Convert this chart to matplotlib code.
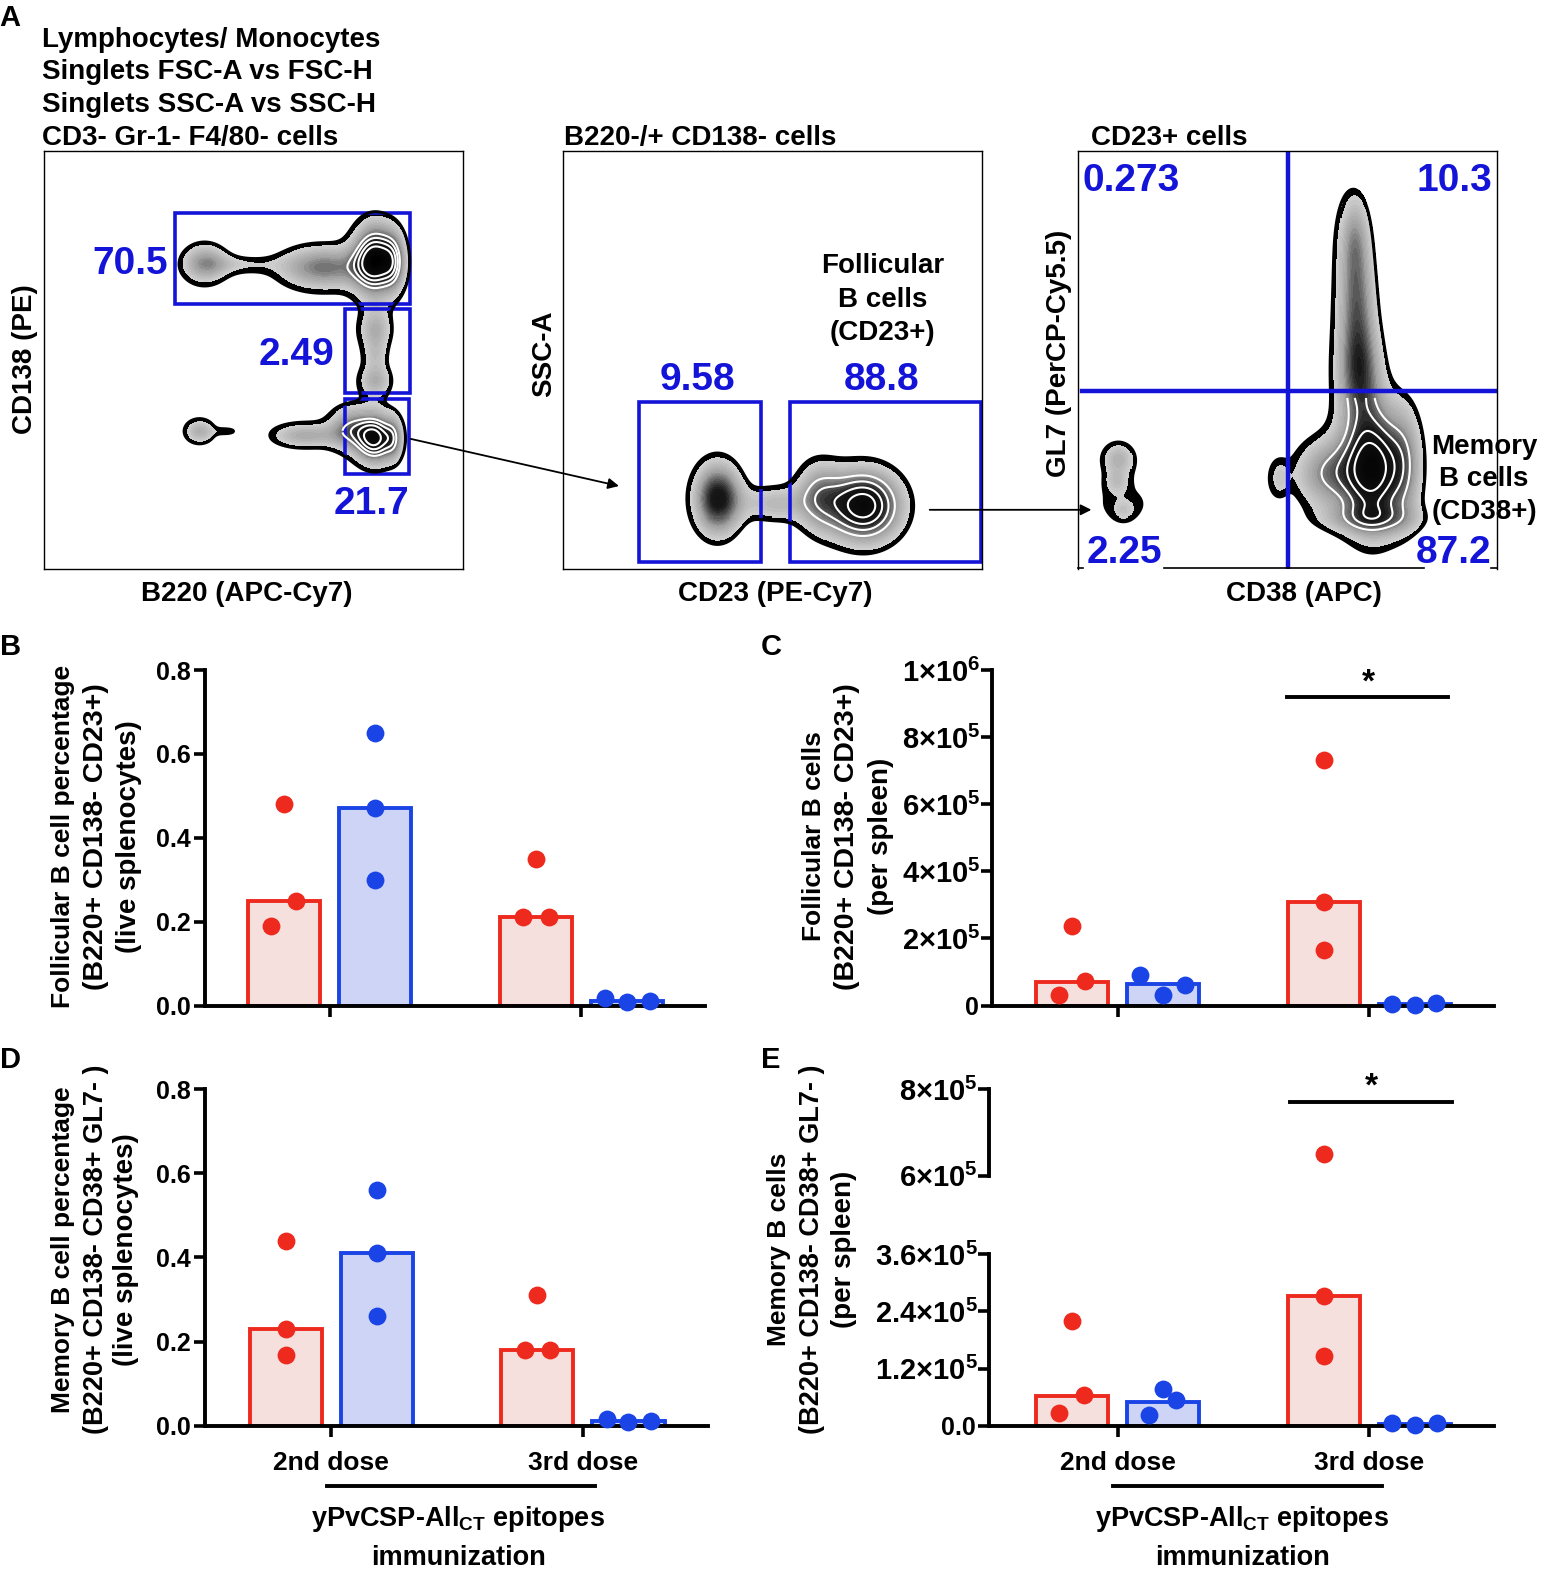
import numpy as np
import matplotlib
matplotlib.use("Agg")
import matplotlib.pyplot as plt
from matplotlib.colors import LinearSegmentedColormap
from matplotlib.patches import Rectangle

plt.rcParams['font.family'] = ['Liberation Sans', 'DejaVu Sans']
plt.rcParams['font.weight'] = 'bold'
plt.rcParams['mathtext.fontset'] = 'custom'
plt.rcParams['mathtext.rm'] = 'Liberation Sans:bold'
plt.rcParams['mathtext.default'] = 'rm'

# ---------------- data ----------------
groups = ['2nd dose', '3rd dose']

b_bars = [0.25, 0.47, 0.21, 0.01]
b_red2 = [0.19, 0.25, 0.48]
b_blue2 = [0.30, 0.47, 0.65]
b_red3 = [0.21, 0.21, 0.35]
b_blue3 = [0.018, 0.008, 0.010]

c_bars = [0.7e5, 0.65e5, 3.1e5, 0.05e5]
c_red2 = [0.3e5, 0.72e5, 2.37e5]
c_blue2 = [0.9e5, 0.3e5, 0.6e5]
c_red3 = [1.65e5, 3.1e5, 7.33e5]
c_blue3 = [0.05e5, 0.03e5, 0.06e5]

d_bars = [0.23, 0.41, 0.18, 0.01]
d_red2 = [0.168, 0.23, 0.438]
d_blue2 = [0.26, 0.41, 0.56]
d_red3 = [0.18, 0.18, 0.31]
d_blue3 = [0.015, 0.008, 0.010]

e_bars = [0.62e5, 0.50e5, 2.73e5, 0.04e5]
e_red2 = [0.275e5, 0.635e5, 2.2e5]
e_blue2 = [0.23e5, 0.76e5, 0.53e5]
e_red3 = [1.46e5, 2.73e5, 6.51e5]
e_blue3 = [0.05e5, 0.02e5, 0.05e5]

# swarm offsets of the dots, in bar units
off_b = [[-.14, .13, 0], [0, 0, 0], [-.14, .14, 0], [-.24, 0, .25]]
off_c = [[-.14, .14, 0], [-.25, 0, .24], [0, 0, 0], [-.25, 0, .23]]
off_d = [[0, 0, 0], [0, 0, 0], [-.14, .14, 0], [-.24, 0, .25]]
off_e = [[-.14, .13, 0], [-.16, 0, .14], [0, 0, 0], [-.25, 0, .24]]

# flow-cytometry density blobs: cx, cy, sx, sy, amplitude
blobs1 = [(203, 262, 16, 14, .46), (240, 263, 24, 7, .17), (372, 258, 15, 24, 1.0),
          (320, 266, 30, 15, .55), (391, 260, 8, 20, .4),
          (372, 328, 12, 15, .36), (372, 378, 12, 12, .36), (372, 353, 9, 10, .17),
          (372, 435, 14, 17, .95), (345, 425, 14, 15, .45), (302, 432, 24, 9, .38),
          (391, 435, 6, 15, .3), (198, 428, 11, 9, .36), (226, 428, 9, 3, .16)]
blobs2 = [(712, 495, 16, 24, .82), (768, 500, 22, 13, .3), (857, 502, 25, 24, 1.0),
          (812, 492, 16, 24, .42)]
blobs3 = [(1110, 455, 12, 12, .34), (1115, 500, 28, 20, .17), (1115, 507, 6, 6, .12),
          (1108, 478, 8, 8, .17),
          (1343, 235, 11, 32, .38), (1345, 300, 13, 40, .5), (1348, 370, 15, 35, .6),
          (1362, 465, 22, 42, 1.0), (1315, 470, 22, 24, .45), (1360, 515, 35, 10, .3),
          (1395, 460, 12, 40, .3), (1268, 475, 8, 16, .2)]

# ---------------- layout helpers ----------------
W, H = 1537.4, 1568.2
RED, RED_F = '#EE2A1E', '#F6E0DE'
BLUE, BLUE_F = '#1A44E6', '#CDD4F5'
GATE = '#1414D8'
FS = 20

fig = plt.figure(figsize=(15.49, 15.80), dpi=100, facecolor='white')


def axpx(x0, y0, x1, y1, **kw):
    return fig.add_axes([x0 / W, 1 - y1 / H, (x1 - x0) / W, (y1 - y0) / H], **kw)


over = fig.add_axes([0, 0, 1, 1], zorder=10)
over.set_xlim(0, W)
over.set_ylim(H, 0)
over.axis('off')
over.patch.set_alpha(0)


def T(x, y, s, **kw):
    kw.setdefault('fontsize', FS)
    kw.setdefault('ha', 'center')
    kw.setdefault('va', 'center')
    if kw.get('rotation') == 90:
        x += 3
    else:
        y += 2.5
    over.text(x, y, s, **kw)


cm = LinearSegmentedColormap.from_list('flow', [
    (0, '#000000'), (.05, '#000000'), (.055, '#d0d0d0'), (.30, '#a0a0a0'),
    (.62, '#181818'), (1, '#000000')])


def flow(box, blobs, levels, gates, ring_zone, thresh=.12):
    x0, y0, x1, y1 = box
    ax = axpx(x0, y0, x1, y1)
    ax.set_xlim(x0, x1)
    ax.set_ylim(y1, y0)
    ax.set_xticks([])
    ax.set_yticks([])
    for s in ax.spines.values():
        s.set_linewidth(1.0)
    xs, ys = np.meshgrid(np.arange(x0, x1), np.arange(y0, y1))
    F = np.zeros_like(xs, dtype=float)
    for cx, cy, sx, sy, a in blobs:
        F += a * np.exp(-(xs - cx) ** 2 / (2 * sx ** 2) - (ys - cy) ** 2 / (2 * sy ** 2))
    F = np.clip(F, 0, 1.15) / 1.15
    G = np.round((F - thresh) / (1 - thresh) * 30) / 30
    ax.imshow(np.ma.masked_where(F < thresh, G), cmap=cm, vmin=0, vmax=1,
              extent=(x0, x1, y1, y0), aspect='auto', interpolation='nearest')
    ax.contour(xs, ys, F, levels=[thresh], colors='k', linewidths=2.2)
    zx0, zy0 = ring_zone
    Fz = np.ma.masked_where((xs < zx0) | (ys < zy0), F)
    ax.contour(xs, ys, Fz, levels=levels, colors='white', linewidths=1.5)
    for gx, gy, gw, gh in gates:
        ax.add_patch(Rectangle((gx, gy), gw, gh, fill=False, ec=GATE, lw=2.6, clip_on=False))
    return ax


flow((44, 150, 460, 565), blobs1, [.5, .6, .7, .8], [(174, 211, 233, 91), (342, 307, 65, 83), (342, 396, 64, 74)], (340, 150))
flow((559, 150, 975, 565), blobs2, [.4, .53, .66, .78], [(634, 399, 121, 159), (784, 399, 190, 159)], (790, 150))
a3 = flow((1070, 150, 1486, 565), blobs3, [.45, .58, .7, .8], [], (1300, 395))
a3.axvline(1278, color=GATE, lw=3.2)
a3.plot([1074, 1486], [388, 388], color=GATE, lw=3.2)
a3.spines['bottom'].set_visible(False)
for seg in ([1070, 1075], [1155, 1413], [1480, 1486]):
    a3.plot(seg, [564, 564], color='k', lw=1.2, clip_on=False)

over.annotate('', xy=(617, 483), xytext=(405, 435), arrowprops=dict(arrowstyle='-|>', color='k', lw=1.3, mutation_scale=16))
over.annotate('', xy=(1086, 506), xytext=(920, 506), arrowprops=dict(arrowstyle='-|>', color='k', lw=1.3, mutation_scale=16))

for x, y, s in [(129, 260, '70.5'), (294, 350, '2.49'), (369, 498, '21.7'), (692, 375, '9.58'),
                (875, 375, '88.8'), (1123, 177, '0.273'), (1443, 177, '10.3'),
                (1116, 546, '2.25'), (1443, 546, '87.2')]:
    T(x, y, s, fontsize=28, color=GATE)

for y, s in [(37, 'Lymphocytes/ Monocytes'), (69, 'Singlets FSC-A vs FSC-H'),
             (102, 'Singlets SSC-A vs SSC-H'), (134, 'CD3- Gr-1- F4/80- cells')]:
    T(42, y, s, ha='left')
T(560, 134, 'B220-/+ CD138- cells', ha='left')
T(1083, 134, 'CD23+ cells', ha='left')
for y, s in [(262, 'Follicular'), (295, 'B cells'), (328, '(CD23+)')]:
    T(876, y, s)
for y, s in [(441, 'Memory'), (473, 'B cells'), (506, '(CD38+)')]:
    T(1473, y, s)
T(245, 587, 'B220 (APC-Cy7)')
T(769, 587, 'CD23 (PE-Cy7)')
T(1294, 587, 'CD38 (APC)')
T(22, 356, 'CD138 (PE)', rotation=90)
T(537, 351, 'SSC-A', rotation=90)
T(1048, 351, 'GL7 (PerCP-Cy5.5)', rotation=90)

for x, y, s in [(10, 15, 'A'), (10, 640, 'B'), (765, 640, 'C'), (10, 1050, 'D'), (765, 1050, 'E')]:
    T(x, y, s, fontsize=21)


def style(ax):
    ax.patch.set_alpha(0)
    for k in ('top', 'right'):
        ax.spines[k].set_visible(False)
    for k in ('left', 'bottom'):
        ax.spines[k].set_linewidth(2.8)
    ax.tick_params(width=2.6, length=8, labelsize=18, pad=2)


def size_labels(ax):
    for lab in ax.get_yticklabels():
        lab.set_fontsize(21 if '$' in lab.get_text() else 18)
        if '$' in lab.get_text():
            lab.set_x(0.004)


POS = [0, 1, 2.76, 3.76]
COLS = [(RED, RED_F), (BLUE, BLUE_F), (RED, RED_F), (BLUE, BLUE_F)]


def panel_bars(ax, bars):
    for p, h, (e, f) in zip(POS, bars, COLS):
        ax.bar(p, h, width=.79, facecolor=f, edgecolor=e, linewidth=2.8, zorder=2)


def dots(ax, pts, offs, lo=None, hi=None):
    for p, vals, of, (c, _) in zip(POS, pts, offs, COLS):
        for v, o in zip(vals, of):
            if (lo is None or v >= lo) and (hi is None or v <= hi):
                ax.scatter(p + o, v, s=165, color=c, zorder=4, linewidths=0, clip_on=False)


def simple_panel(box, centre0, ymax, ticks, labels, bars, pts, offs, ticklab):
    x0, y0, x1, y1 = box
    ax = axpx(x0, y0, x1, y1)
    style(ax)
    unit = 90.5
    ax.set_xlim(-(centre0 - x0) / unit, (x1 - centre0) / unit)
    ax.set_ylim(0, ymax)
    ax.set_yticks(ticks)
    ax.set_yticklabels(labels)
    size_labels(ax)
    ax.set_xticks([.5, 3.26])
    ax.set_xticklabels(groups if ticklab else ['', ''], fontsize=19)
    ax.tick_params(axis='x', pad=10)
    panel_bars(ax, bars)
    dots(ax, pts, offs)
    return ax


# Panel B
simple_panel((203, 665, 700, 998), 282, 0.8, [0, .2, .4, .6, .8], ['0.0', '0.2', '0.4', '0.6', '0.8'],
             b_bars, [b_red2, b_blue2, b_red3, b_blue3], off_b, False)
# Panel C
simple_panel((985, 665, 1483, 998), 1064, 1e6, [0, 2e5, 4e5, 6e5, 8e5, 1e6],
             ['0', '2×10$^{5}$', '4×10$^{5}$', '6×10$^{5}$', '8×10$^{5}$', '1×10$^{6}$'],
             c_bars, [c_red2, c_blue2, c_red3, c_blue3], off_c, False)
# Panel D
simple_panel((203, 1081, 703, 1415), 283.5, 0.8, [0, .2, .4, .6, .8], ['0.0', '0.2', '0.4', '0.6', '0.8'],
             d_bars, [d_red2, d_blue2, d_red3, d_blue3], off_d, True)

# Panel E (broken axis)
e_pts = [e_red2, e_blue2, e_red3, e_blue3]
lower = axpx(982, 1245, 1483, 1415)
style(lower)
lower.set_xlim(-(1064 - 982) / 90.5, (1483 - 1064) / 90.5)
lower.set_ylim(0, 3.6e5)
lower.set_yticks([0, 1.2e5, 2.4e5, 3.6e5])
lower.set_yticklabels(['0.0', '1.2×10$^{5}$', '2.4×10$^{5}$', '3.6×10$^{5}$'])
size_labels(lower)
lower.set_xticks([.5, 3.26])
lower.set_xticklabels(groups, fontsize=19)
lower.tick_params(axis='x', pad=10)
panel_bars(lower, e_bars)
dots(lower, e_pts, off_e, hi=3.6e5)

upper = axpx(982, 1081, 1483, 1167)
style(upper)
upper.spines['bottom'].set_visible(False)
upper.set_xlim(lower.get_xlim())
upper.set_ylim(6e5, 8e5)
upper.set_yticks([6e5, 8e5])
upper.set_yticklabels(['6×10$^{5}$', '8×10$^{5}$'])
size_labels(upper)
upper.set_xticks([])
dots(upper, e_pts, off_e, lo=6e5)

# y titles
for x, s, fs in [(60, 'Follicular B cell percentage', 19), (92, '(B220+ CD138- CD23+)', 20.5), (125, '(live splenocytes)', 20)]:
    T(x, 830, s, rotation=90, fontsize=fs)
for x, s, fs in [(805, 'Follicular B cells', 19), (838, '(B220+ CD138- CD23+)', 20.5), (871, '(per spleen)', 20)]:
    T(x, 830, s, rotation=90, fontsize=fs)
for x, s, fs in [(60, 'Memory B cell percentage', 19), (92, '(B220+ CD138- CD38+ GL7- )', 19.5), (122, '(live splenocytes)', 20)]:
    T(x, 1240, s, rotation=90, fontsize=fs)
for x, s, fs in [(770, 'Memory B cells', 19), (803, '(B220+ CD138- CD38+ GL7- )', 19.5), (835, '(per spleen)', 20)]:
    T(x, 1240, s, rotation=90, fontsize=fs)

# significance bars, brackets, captions
over.plot([1277, 1437], [692, 692], color='k', lw=2.8)
T(1358, 675, '*', fontsize=24)
over.plot([1280, 1441], [1094, 1094], color='k', lw=2.8)
T(1361, 1076, '*', fontsize=24)
over.plot([325, 591], [1475, 1475], color='k', lw=2.8)
over.plot([1105, 1372], [1475, 1475], color='k', lw=2.8)
for cx in (455, 1233):
    T(cx, 1505, 'yPvCSP-All$_{CT}$ epitopes', fontsize=19.5)
    T(cx, 1544, 'immunization', fontsize=19.5)

fig.savefig('out.png', dpi=100)
